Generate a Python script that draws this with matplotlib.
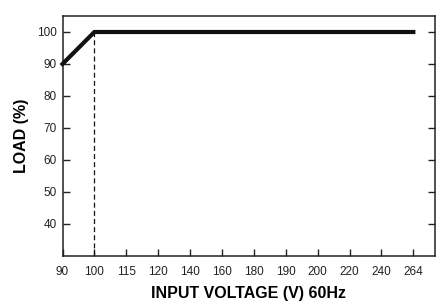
import matplotlib
matplotlib.use("Agg")
import matplotlib.pyplot as plt

# derating curve data
volt_labels = ["90", "100", "115", "120", "140", "160", "180", "190", "200", "220", "240", "264"]
load_pct = [90, 100, 100, 100, 100, 100, 100, 100, 100, 100, 100, 100]
y_ticks = [40, 50, 60, 70, 80, 90, 100]
knee_idx = 1  # 100V, where full load begins

plt.rcParams['font.family'] = ['Liberation Sans', 'DejaVu Sans']

fig = plt.figure(figsize=(4.48, 3.04), dpi=100)
ax = fig.add_axes([62.5 / 448, 1 - 256 / 304, (435 - 62.5) / 448, (256 - 16) / 304])

pos = list(range(len(volt_labels)))
ax.plot(pos, load_pct, color="#111111", lw=3.0, solid_joinstyle="miter", clip_on=False, zorder=3)
ax.plot([pos[knee_idx], pos[knee_idx]], [30, load_pct[knee_idx]], color="#111111",
        lw=0.9, ls=(0, (4, 2.5)))

ax.set_xlim(0, 11.68)
ax.set_ylim(30, 105)
ax.set_xticks(pos)
ax.set_xticklabels(volt_labels)
ax.set_yticks(y_ticks)

ax.tick_params(axis="x", direction="in", length=5, width=1, labelsize=8.5, pad=7, colors="#222222")
ax.tick_params(axis="y", direction="in", length=5, width=1, labelsize=8.5, right=True, pad=4,
               colors="#222222")
for s in ax.spines.values():
    s.set_linewidth(1.1)
    s.set_color("#222222")

ax.set_xlabel("INPUT VOLTAGE (V) 60Hz", fontsize=11.5, fontweight="bold", labelpad=6)
ax.set_ylabel("LOAD (%)", fontsize=11.5, fontweight="bold", labelpad=6)

fig.savefig("out.png", dpi=100)
